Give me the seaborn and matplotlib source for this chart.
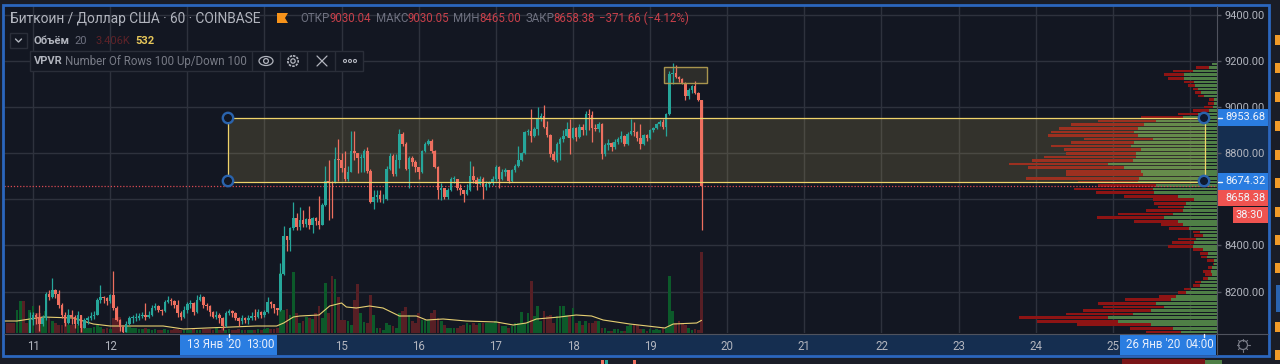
import numpy as np
import pandas as pd
import matplotlib
matplotlib.use("Agg")
import matplotlib.pyplot as plt
from matplotlib.patches import Rectangle, Circle, Ellipse, Polygon
import seaborn as sns

# hourly candles, hour 0 = 11 Jan 00:00, first candle 10 Jan 15:00
first_hour = -9
closes = [8005, 8000, 7995, 7990, 8000, 8015, 8005, 7995, 8075,
          8100, 8090, 8060, 8085, 8190, 8175, 8205, 8190, 8140, 8100, 8065, 8100, 8090, 8060, 8100, 8040, 8075, 8085, 8095, 8100, 8165, 8175, 8170, 8160,
          8185, 8130, 8075, 8045, 8025, 8060, 8085, 8085, 8085, 8095, 8100, 8090, 8100, 8130, 8135, 8120, 8115, 8155, 8165, 8160, 8140, 8105, 8090, 8120,
          8145, 8150, 8110, 8165, 8175, 8140, 8135, 8110, 8090, 8100, 8085, 8050, 8105, 8115, 8105, 8085, 8070, 8085, 8075, 8085, 8095, 8090, 8110, 8100,
          8110, 8155, 8145, 8130, 8120, 8275, 8440, 8425, 8475, 8520, 8480, 8510, 8495, 8515, 8490, 8520, 8505, 8490, 8575, 8680, 8675, 8670, 8775, 8770,
          8735, 8690, 8720, 8810, 8800, 8780, 8780, 8810, 8722, 8590, 8610, 8620, 8600, 8600, 8730, 8790, 8710, 8770, 8885, 8840, 8730, 8780, 8760, 8740,
          8720, 8810, 8840, 8855, 8810, 8740, 8640, 8650, 8610, 8640, 8690, 8690, 8650, 8640, 8625, 8640, 8700, 8685, 8665, 8690, 8655, 8665, 8670, 8690,
          8740, 8690, 8720, 8725, 8680, 8725, 8745, 8770, 8800, 8890, 8895, 8875, 8905, 8950, 8960, 8915, 8880, 8795, 8770, 8840, 8860, 8875, 8905, 8865,
          8910, 8870, 8915, 8900, 8970, 8965, 8910, 8905, 8925, 8797, 8835, 8845, 8825, 8850, 8860, 8875, 8840, 8885, 8895, 8890, 8865, 8840, 8880, 8865,
          8900, 8910, 8925, 8935, 8915, 8970, 9145, 9150, 9130, 9120, 9105, 9050, 9075, 9090, 9060, 9030.04, 8658.38]
highs = [8010, 8005, 8000, 7995, 8005, 8020, 8010, 8000, 8113,
         8113, 8105, 8142, 8100, 8200, 8205, 8260, 8210, 8205, 8150, 8112, 8125, 8120, 8100, 8115, 8100, 8085, 8095, 8110, 8115, 8170, 8230, 8180, 8175,
         8190, 8290, 8135, 8080, 8050, 8070, 8095, 8100, 8105, 8105, 8110, 8152, 8115, 8140, 8150, 8140, 8125, 8165, 8180, 8170, 8165, 8165, 8115, 8135,
         8155, 8165, 8155, 8185, 8190, 8180, 8150, 8140, 8115, 8115, 8105, 8090, 8115, 8125, 8120, 8110, 8090, 8100, 8090, 8100, 8110, 8125, 8125, 8115,
         8120, 8175, 8160, 8145, 8130, 8325, 8485, 8440, 8480, 8590, 8540, 8565, 8555, 8520, 8570, 8525, 8525, 8615, 8585, 8745, 8770, 8680, 8825, 8860,
         8800, 8810, 8745, 8895, 8898, 8800, 8795, 8820, 8825, 8730, 8640, 8640, 8640, 8625, 8745, 8800, 8795, 8795, 8905, 8890, 8850, 8790, 8790, 8770,
         8740, 8815, 8850, 8860, 8860, 8815, 8745, 8670, 8640, 8650, 8695, 8700, 8690, 8665, 8640, 8665, 8765, 8745, 8695, 8700, 8695, 8680, 8680, 8700,
         8750, 8745, 8730, 8735, 8725, 8730, 8755, 8830, 8805, 8895, 8905, 8990, 8915, 9000, 8975, 9010, 8940, 8885, 8810, 8850, 8870, 8900, 8935, 8950,
         8915, 8915, 8925, 8925, 8985, 8990, 8985, 8925, 8935, 8930, 8845, 8860, 8850, 8860, 8870, 8895, 8880, 8890, 8950, 8935, 8895, 8925, 8885, 8885,
         8905, 8915, 8930, 8945, 8950, 8975, 9155, 9193, 9184, 9135, 9125, 9110, 9085, 9095, 9115, 9065, 9030.05]
lows = [8000, 7995, 7990, 7985, 7990, 7995, 8000, 7990, 7990,
        8055, 8060, 8030, 8050, 8075, 8165, 8170, 8170, 8130, 8085, 8050, 8060, 8060, 8040, 8055, 8025, 8040, 8060, 8075, 8080, 8100, 8150, 8150, 8140,
        8150, 8120, 8070, 8030, 8020, 8025, 8055, 8065, 8070, 8075, 8085, 8075, 8085, 8095, 8120, 8110, 8100, 8110, 8150, 8140, 8130, 8090, 8075, 8085,
        8105, 8130, 8100, 8105, 8160, 8130, 8120, 8095, 8085, 8080, 8065, 8035, 8045, 8100, 8090, 8075, 8050, 8060, 8065, 8060, 8075, 8075, 8085, 8085,
        8090, 8105, 8130, 8105, 8100, 8115, 8270, 8375, 8375, 8465, 8465, 8465, 8480, 8480, 8470, 8455, 8490, 8470, 8490, 8570, 8510, 8520, 8670, 8680,
        8720, 8680, 8680, 8720, 8770, 8715, 8720, 8720, 8715, 8585, 8560, 8590, 8590, 8585, 8595, 8725, 8700, 8700, 8735, 8830, 8725, 8650, 8745, 8720,
        8690, 8715, 8805, 8835, 8800, 8735, 8600, 8595, 8600, 8600, 8635, 8670, 8640, 8620, 8590, 8620, 8635, 8670, 8640, 8660, 8600, 8640, 8655, 8660,
        8680, 8650, 8685, 8700, 8670, 8675, 8720, 8740, 8765, 8795, 8880, 8850, 8870, 8880, 8940, 8910, 8870, 8785, 8765, 8760, 8770, 8850, 8870, 8797,
        8860, 8855, 8865, 8880, 8880, 8900, 8850, 8895, 8890, 8775, 8790, 8815, 8810, 8820, 8840, 8850, 8830, 8835, 8880, 8875, 8855, 8820, 8835, 8855,
        8860, 8890, 8905, 8920, 8905, 8875, 8965, 9100, 9125, 9110, 9100, 9030, 9035, 9060, 9055, 9025, 8465]
volumes = [420, 420, 420, 420, 966, 1344, 1344, 420, 966,
           1134, 840, 840, 630, 924, 630, 504, 420, 336, 336, 420, 336, 336, 336, 336, 378, 252, 210, 210, 252, 336, 252, 168, 210,
           168, 630, 924, 672, 336, 294, 252, 210, 210, 168, 168, 210, 168, 126, 168, 126, 126, 168, 126, 126, 168, 168, 126, 126,
           126, 126, 168, 126, 126, 168, 168, 168, 126, 210, 126, 252, 126, 168, 126, 126, 168, 126, 126, 126, 126, 126, 168, 126,
           168, 210, 168, 168, 210, 2520, 966, 1008, 756, 2562, 840, 420, 504, 672, 630, 588, 840, 1134, 630, 2100, 840, 2394, 2268, 1512,
           546, 546, 504, 336, 1386, 2058, 840, 462, 420, 1596, 756, 210, 210, 126, 420, 336, 294, 210, 840, 924, 1092, 756, 504, 420,
           840, 546, 546, 546, 840, 966, 630, 504, 336, 210, 210, 210, 210, 294, 336, 420, 336, 420, 336, 420, 420, 420, 420, 420,
           504, 420, 294, 294, 210, 294, 420, 420, 882, 420, 840, 2184, 714, 1134, 504, 924, 714, 756, 420, 714, 1134, 1134, 756, 756,
           1050, 420, 504, 336, 504, 420, 420, 504, 504, 210, 210, 84, 84, 168, 168, 84, 84, 294, 336, 336, 336, 168, 168, 84,
           168, 126, 168, 126, 210, 210, 2394, 924, 420, 504, 420, 336, 210, 126, 168, 126, 3406]

# volume moving average, read at its bends
ma_hours = [-9, -5, -1, 3.2, 12.5, 15.6, 18.8, 24, 29, 40.5, 46.8, 54, 69.6, 75.8, 78, 81, 83, 89,
            92.3, 96, 97.5, 100.6, 104.7, 108.9, 114, 119.3, 122.4, 127.6, 134.8, 144.2, 149.4, 153.5,
            156.6, 163.9, 169, 173.8, 177.4, 185.7, 196.6, 199.2, 206.5, 208]
ma_values = [504, 504, 588, 672, 630, 504, 378, 294, 294, 294, 168, 210, 294, 294, 420, 672, 714, 756,
             1134, 1260, 1092, 1050, 1134, 1050, 714, 714, 546, 588, 504, 462, 336, 420,
             588, 672, 756, 714, 546, 378, 210, 378, 420, 532]

# volume profile, top row first
row_top = 9187
row_step = 15.5
row_up = [5, 8, 24, 33, 33, 23, 22, 19, 16, 13, 3, 3, 4, 8, 19, 34, 61, 73, 79, 83, 79, 64, 83, 86, 76, 81, 81, 84, 109, 93, 76, 74, 78, 79, 61, 64, 63, 39,
          23, 31, 33, 34, 44, 53, 39, 34, 28, 17, 14, 21, 23, 24, 14, 9, 10, 3, 3, 5, 6, 5, 9, 16, 17, 26, 31, 41, 46, 61, 53, 66, 84, 109, 99, 66, 44, 36, 17]
row_total = [5, 21, 44, 53, 49, 33, 29, 24, 22, 19, 8, 9, 13, 24, 39, 76, 119, 146, 158, 166, 169, 133, 146, 166, 153, 151, 173, 185, 208, 189, 151, 151, 191, 139, 119, 143, 121, 93,
             64, 63, 59, 71, 99, 120, 83, 56, 48, 24, 23, 39, 45, 49, 24, 17, 16, 10, 4, 9, 14, 12, 14, 22, 24, 33, 39, 58, 92, 119, 114, 134, 151, 198, 180, 140, 87, 71, 44]

# ticks; the ones hidden behind a badge in the picture keep their gridline but no label
price_ticks = [8200, 8400, 8600, 8800, 9000, 9200, 9400]
price_labels = ["8200.00", "8400.00", "", "8800.00", "9000.00", "9200.00", "9400.00"]
day_labels = ["11", "12", "", "", "15", "16", "17", "18", "19", "20", "21", "22", "23", "24", "25", ""]

zone_low = 8674.32
zone_high = 8953.68
zone_start = 60.7
zone_end = 364.8
last_price = 8658.38

bg = "#131722"
outer = "#1a1d27"
grid = "#2e323d"
text_col = "#b2b5be"
teal = "#26a69a"
salmon = "#ee6f5f"
blue = "#2a7de1"
band = "#152e50"
yellow = "#efd36a"

W, H = 1280, 364
x_min, x_max = (4 - 33) / 3.214, (1217 - 33) / 3.214
y_min, y_max = 8020, 9438.6

sns.set_theme(style="darkgrid", rc={"axes.facecolor": bg, "figure.facecolor": outer, "grid.color": grid,
                                    "grid.linewidth": 1.0, "xtick.color": text_col, "ytick.color": text_col,
                                    "axes.edgecolor": bg})
plt.rcParams["font.family"] = ["Roboto", "DejaVu Sans"]

fig = plt.figure(figsize=(W / 100, H / 100), dpi=100)
pane = [4 / W, 1 - 333 / H, (1217 - 4) / W, (333 - 6) / H]

# chrome behind the axis labels
back = fig.add_axes([0, 0, 1, 1], zorder=0)
back.set_xlim(0, W)
back.set_ylim(H, 0)
back.axis("off")
back.add_patch(Rectangle((4, 6), 1265, 350, color=bg, lw=0))
back.add_patch(Rectangle((180, 334), 940, 22, color=band, lw=0))
back.add_patch(Rectangle((1217, 125), 52, 50, color=band, lw=0))

# price axes: grid and tick labels
base = fig.add_axes(pane, zorder=1)
base.set_xlim(x_min, x_max)
base.set_ylim(y_min, y_max)
base.yaxis.tick_right()
base.set_yticks(price_ticks, price_labels)
base.set_xticks([24 * i for i in range(len(day_labels))], day_labels)
base.tick_params(axis="y", length=3, width=1, pad=2.5, labelsize=7.9, color="#50535e")
base.tick_params(axis="x", length=3, width=1, pad=2, labelsize=8.3, color="#50535e")
base.grid(True)
for s in base.spines.values():
    s.set_visible(False)

hours = first_hour + np.arange(len(closes))
closes = np.array(closes, dtype=float)
opens = np.r_[closes[0], closes[:-1]]
up = closes >= opens

# volume bars and average, on the same pane
vol_ax = fig.add_axes(pane, zorder=2)
vol_df = pd.DataFrame({"hour": hours, "volume": volumes, "dir": np.where(up, "up", "down")})
sns.barplot(data=vol_df, x="hour", y="volume", hue="dir", palette={"up": "#0c5a2a", "down": "#571f25"},
            native_scale=True, dodge=False, width=0.85, saturation=1, errorbar=None, legend=False,
            linewidth=0, edgecolor="none", ax=vol_ax)
sns.lineplot(x=ma_hours, y=ma_values, color="#e6cf72", lw=0.8, ax=vol_ax, zorder=5)
vol_ax.set_xlim(x_min, x_max)
vol_ax.set_ylim(0, 327 * 42)
vol_ax.axis("off")

# profile, measured leftward from the right edge
prof_ax = fig.add_axes(pane, zorder=3)
row_prices = row_top - row_step * np.arange(len(row_up))
sns.barplot(x=row_total, y=row_prices, orient="y", native_scale=True, color="#8e1414", saturation=1,
            width=0.74, errorbar=None, linewidth=0, edgecolor="none", ax=prof_ax)
sns.barplot(x=row_up, y=row_prices, orient="y", native_scale=True, color="#4f7f46", saturation=1,
            width=0.74, errorbar=None, linewidth=0, edgecolor="none", ax=prof_ax)
prof_ax.set_xlim(1213, 0)
prof_ax.set_ylim(y_min, y_max)
prof_ax.axis("off")

# candles and drawings
ax = fig.add_axes(pane, zorder=4)
ax.set_xlim(x_min, x_max)
ax.set_ylim(y_min, y_max)
ax.axis("off")
ax.add_patch(Rectangle((zone_start, zone_low), zone_end - zone_start, zone_high - zone_low,
                       facecolor=yellow, alpha=0.15, lw=0, zorder=1))
ax.add_patch(Rectangle((zone_start, zone_low), zone_end - zone_start, zone_high - zone_low,
                       fill=False, edgecolor=yellow, lw=0.9, zorder=6))
ax.add_patch(Rectangle((196.3, 9105), 13.4, 69, facecolor=yellow, alpha=0.12, lw=0, zorder=1))
ax.add_patch(Rectangle((196.3, 9105), 13.4, 69, fill=False, edgecolor="#a8954e", lw=1.0, zorder=6))
ax.axhline(last_price, color="#d84a52", lw=0.9, ls=(0, (1, 1.5)), zorder=2)
colors = np.where(up, teal, salmon)
ax.vlines(hours, lows, highs, colors=colors, lw=0.9, zorder=3)
ax.bar(hours, np.maximum(np.abs(closes - opens), 3), bottom=np.minimum(closes, opens), width=0.78,
       color=colors, lw=0, zorder=4)

# chrome on top
front = fig.add_axes([0, 0, 1, 1], zorder=5)
front.set_xlim(0, W)
front.set_ylim(H, 0)
front.axis("off")
front.patch.set_alpha(0)

for cx, cy, fc in [(228, 118, bg), (228, 181, bg), (1204, 118, "#0f1a30"), (1204, 181, "#0f1a30")]:
    front.add_patch(Circle((cx, cy), 5.2, facecolor=fc, edgecolor="#2a63ad", lw=1.7))

# frame
front.add_patch(Rectangle((3, 4.5), 1266, 351.5, fill=False, edgecolor="#2b66bd", lw=2))
front.plot([1217, 1217], [6, 355], color="#50535e", lw=0.8)
front.plot([4, 1268], [333.5, 333.5], color="#50535e", lw=0.8)

# price badges
for y0, h0, x0, label, fc in [(109, 17, 1217, "8953.68", blue), (173, 17, 1217, "8674.32", blue),
                              (190, 16, 1217, "8658.38", "#ef5350"), (207, 16, 1233, "38:30", "#ef5350")]:
    front.add_patch(Rectangle((x0, y0), 1268 - x0, h0, color=fc, lw=0))
    front.text(1263 if x0 > 1217 else 1225, y0 + h0 / 2, label, color="#f0f3fa", fontsize=7.9, va="center",
               ha="right" if x0 > 1217 else "left")
    if x0 == 1217 and fc == blue:
        front.plot([1218, 1222], [y0 + h0 / 2, y0 + h0 / 2], color="#f0f3fa", lw=1)

# time badges
front.add_patch(Rectangle((180, 334), 97, 21, color=blue, lw=0))
front.text(187, 345, "13 Янв '20", color="#e8eefa", fontsize=8.3, va="center")
front.text(246, 345, "13:00", color="#e8eefa", fontsize=8.3, va="center")
front.plot([229, 229], [334, 337], color="#f0f3fa", lw=1)
front.add_patch(Rectangle((1120, 334), 96, 21, color=blue, lw=0))
front.text(1126, 345, "26 Янв '20", color="#e8eefa", fontsize=8.3, va="center")
front.text(1185, 345, "04:00", color="#e8eefa", fontsize=8.3, va="center")
front.plot([1204, 1204], [334, 337], color="#f0f3fa", lw=1)
front.add_patch(Circle((1243, 345), 4.5, fill=False, edgecolor="#787b86", lw=0.9))
for a in np.deg2rad(np.arange(0, 360, 45)):
    front.plot([1243 + 4.5 * np.cos(a), 1243 + 6.5 * np.cos(a)], [345 + 4.5 * np.sin(a), 345 + 6.5 * np.sin(a)],
               color="#787b86", lw=0.8)

# header
front.text(10, 18.5, "Биткоин / Доллар США · 60 · COINBASE", color=text_col, fontsize=9.9, va="center")
front.add_patch(Polygon([(277, 13), (288, 13), (285, 18), (288, 23), (277, 23)], color="#f7931a", lw=0))
red = "#c8404a"
for x0, label, c in [(300, "ОТКР", "#6e7180"), (329.5, "9030.04", red), (376, "МАКС", "#6e7180"), (407.5, "9030.05", red),
                     (453, "МИН", "#6e7180"), (479.5, "8465.00", red), (526, "ЗАКР", "#6e7180"), (553.5, "8658.38", red),
                     (599, "−371.66 (−4.12%)", red)]:
    front.text(x0, 18.5, label, color=c, fontsize=8.3, va="center")

front.add_patch(Rectangle((10, 33), 17, 15, fill=False, edgecolor="#2a2e39", lw=1))
front.plot([15.5, 18.5, 21.5], [39, 42, 39], color=text_col, lw=1)
front.text(34, 40.5, "Объём", color=text_col, fontsize=8, va="center", fontweight="bold")
front.text(74, 40.5, "20", color="#6e7180", fontsize=8, va="center")
front.text(95, 40.5, "3.406K", color="#5e2228", fontsize=8, va="center")
front.text(135, 40.5, "532", color="#e6c65a", fontsize=8, va="center", fontweight="bold")

front.add_patch(Rectangle((30, 51), 333, 20, facecolor=bg, edgecolor="#2a2e39", lw=1))
front.text(34, 61.5, "VPVR", color=text_col, fontsize=8, va="center", fontweight="bold")
front.text(65, 61.5, "Number Of Rows 100 Up/Down 100", color="#787b86", fontsize=8.3, va="center")
for xs in [252, 280, 307, 335]:
    front.plot([xs, xs], [52, 70], color="#2a2e39", lw=1)
front.add_patch(Ellipse((266, 61), 14, 9, fill=False, edgecolor=text_col, lw=0.9))
front.add_patch(Circle((266, 61), 2.4, fill=False, edgecolor=text_col, lw=0.9))
front.add_patch(Circle((293, 61), 5.2, fill=False, edgecolor=text_col, lw=1.2, ls=(0, (1.5, 0.7))))
front.add_patch(Circle((293, 61), 2.2, fill=False, edgecolor=text_col, lw=0.9))
front.plot([317, 327], [56, 66], color=text_col, lw=0.9)
front.plot([317, 327], [66, 56], color=text_col, lw=0.9)
for xs in [345, 350, 355]:
    front.add_patch(Circle((xs, 61), 1.5, fill=False, edgecolor=text_col, lw=0.8))

# leftovers of the neighbouring chart around the frame
for y0 in [35, 63, 92, 121, 150, 178, 207, 235, 263, 322, 350]:
    front.add_patch(Rectangle((1275, y0), 5, 10, color="#f09a28", lw=0))
front.add_patch(Rectangle((1276, 285), 4, 27, color="#2a63ad", lw=0))
front.add_patch(Rectangle((1122, 359), 83, 5, color="#7a1518", lw=0))
front.add_patch(Rectangle((1205, 360), 17, 4, color="#4f7f46", lw=0))
front.add_patch(Rectangle((601, 360), 3, 4, color=salmon, lw=0))
front.add_patch(Rectangle((605, 360), 3, 4, color=teal, lw=0))
front.add_patch(Rectangle((633, 360), 3, 4, color=salmon, lw=0))

fig.savefig("out.png", dpi=100, facecolor=outer)
